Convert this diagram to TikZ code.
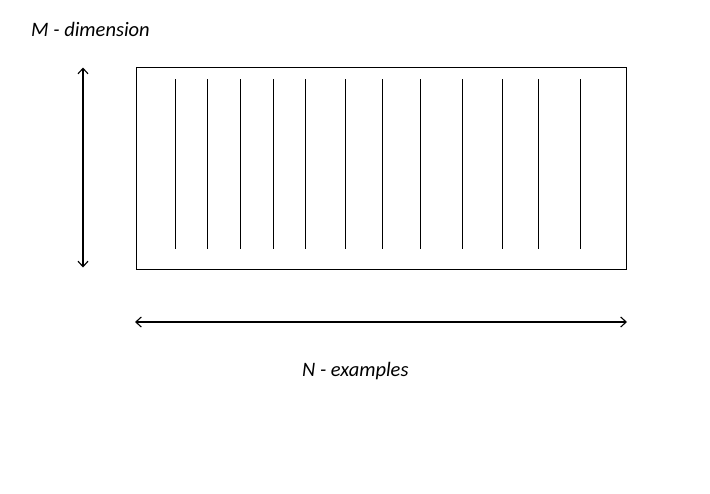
\documentclass[tikz,border=0pt]{standalone}
\usepackage{fontspec}
\setmainfont{Carlito}
\usetikzlibrary{arrows.meta}
\tikzset{
  ln/.style={line width=1.1pt, black},
  dimarrow/.style={line width=1.1pt, {Straight Barb[length=5.5pt,width=10pt]}-{Straight Barb[length=5.5pt,width=10pt]}},
  lbl/.style={font=\fontsize{20.5}{24}\selectfont\itshape, inner sep=0pt, anchor=base west}
}
\begin{document}
\begin{tikzpicture}[x=1pt,y=-1pt]
\useasboundingbox (0,0) rectangle (710,493);
\node[draw, ln, minimum width=490pt, minimum height=202.5pt, inner sep=0pt, anchor=north west] (box) at (136,66.5) {};
\foreach \x in {175.3,207.3,240.3,273.3,305.3,345.7,382.3,420.3,462.3,502.3,538.3,580.3}
  \draw[ln] (\x,79) -- (\x,249.3);
\coordinate (mt) at (83,67.5);
\coordinate (mb) at (83,267.5);
\draw[dimarrow] (mt) -- (mb);
\coordinate (nl) at (135,322);
\coordinate (nr) at (627,322);
\draw[dimarrow] (nl) -- (nr);
\node[lbl] (mlabel) at (31,36) {M - dimension};
\node[lbl] (nlabel) at (302,376.3) {N - examples};
\end{tikzpicture}
\end{document}
